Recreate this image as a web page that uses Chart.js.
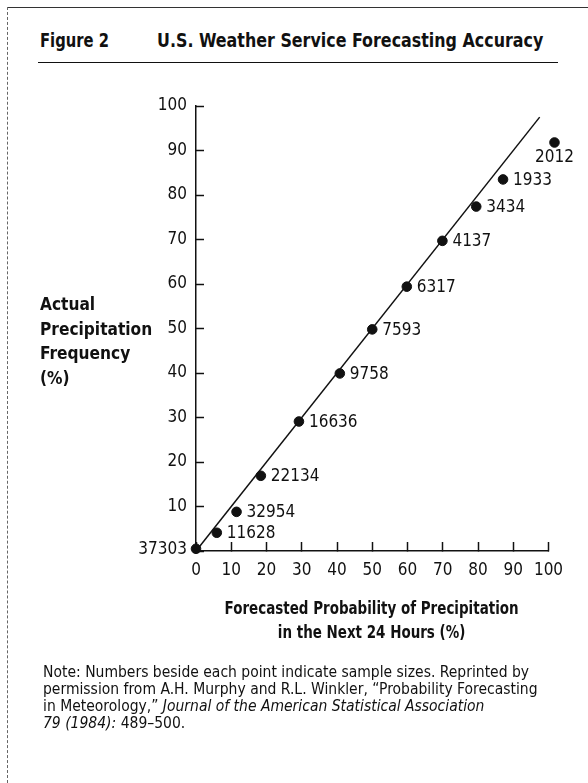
<!DOCTYPE html>
<html>
<head>
<meta charset="utf-8">
<script src="https://cdn.jsdelivr.net/npm/chart.js@4.4.1/dist/chart.umd.min.js"></script>
<style>
  html, body { margin: 0; padding: 0; background: #fff; }
  body { width: 588px; height: 783px; position: relative; overflow: hidden;
         font-family: 'DejaVu Sans Condensed', 'Liberation Sans Narrow', sans-serif; color: #111; }
  .frame-top { position: absolute; left: 7px; top: 7px; width: 581px; border-top: 1.5px solid #333; }
  .frame-left { position: absolute; left: 7px; top: 7px; height: 776px; border-left: 1.5px dashed #666; }
  .narrow { transform-origin: 0 0; white-space: nowrap; }
  .fig { position: absolute; left: 40px; top: 28px; font-weight: bold; font-size: 20px; transform: scaleX(0.82); }
  .title { position: absolute; left: 157px; top: 28px; font-weight: bold; font-size: 20px; transform: scaleX(0.883); }
  .rule { position: absolute; left: 38px; top: 62px; width: 520px; border-top: 1.5px solid #111; }
  .ytitle { position: absolute; left: 40px; top: 292px; font-weight: bold; font-size: 17.5px; line-height: 24.5px;
            transform: scaleX(0.98); }
  .xtitle { position: absolute; left: 222px; top: 596px; font-weight: bold; font-size: 17px; line-height: 24px;
            text-align: center; width: 340px; transform: scaleX(0.88); }
  .note { position: absolute; left: 43px; top: 664px; font-size: 15.5px; line-height: 17px; }
  #chartBox { position: absolute; left: 0; top: 0; width: 588px; height: 783px; }
</style>
</head>
<body>
<div class="frame-top"></div>
<div class="frame-left"></div>
<div class="fig narrow">Figure 2</div>
<div class="title narrow">U.S. Weather Service Forecasting Accuracy</div>
<div class="rule"></div>

<div id="chartBox"><canvas id="calibChart" width="588" height="783"></canvas></div>

<div class="ytitle narrow">Actual<br>Precipitation<br>Frequency<br>(%)</div>
<div class="xtitle narrow">Forecasted Probability of Precipitation<br>in the Next 24 Hours (%)</div>
<div class="note">Note: Numbers beside each point indicate sample sizes. Reprinted by<br>permission from A.H. Murphy and R.L. Winkler, “Probability Forecasting<br>in Meteorology,” <i>Journal of the American Statistical Association</i><br><i>79 (1984):</i> 489–500.</div>

<script>
const forecastPct = [0, 5.9, 11.5, 18.4, 29.2, 40.8, 50, 59.8, 69.9, 79.5, 87.1, 101.7];
const actualPct   = [0.5, 4.1, 8.8, 16.9, 29.1, 39.9, 49.8, 59.4, 69.7, 77.4, 83.5, 91.8];
const sampleSizes = [37303, 11628, 32954, 22134, 16636, 9758, 7593, 6317, 4137, 3434, 1933, 2012];

// perfect-forecast diagonal
const diagonalX = [0, 97.5];
const diagonalY = [0, 97.5];

const xTicks = [0, 10, 20, 30, 40, 50, 60, 70, 80, 90, 100];
const yTicks = [0, 10, 20, 30, 40, 50, 60, 70, 80, 90, 100];

const FONT = "'DejaVu Sans Condensed', 'Liberation Sans Narrow', sans-serif";
const INK = '#111';

// sample size written next to each point
const sampleLabels = {
    id: 'sampleLabels',
    afterDatasetsDraw(chart) {
        const meta = chart.getDatasetMeta(0);
        const ctx = chart.ctx;
        const last = meta.data.length - 1;
        ctx.save();
        ctx.font = '17px ' + FONT;
        ctx.fillStyle = INK;
        meta.data.forEach((pt, i) => {
            const txt = String(sampleSizes[i]);
            if (i === 0) {
                ctx.textAlign = 'right';
                ctx.textBaseline = 'middle';
                ctx.fillText(txt, pt.x - 9, pt.y + 1);
            } else if (i === last) {
                ctx.textAlign = 'center';
                ctx.textBaseline = 'top';
                ctx.fillText(txt, pt.x, pt.y + 7);
            } else {
                ctx.textAlign = 'left';
                ctx.textBaseline = 'middle';
                ctx.fillText(txt, pt.x + 10, pt.y + 1);
            }
        });
        ctx.restore();
    }
};

const canvas = document.getElementById('calibChart');
if (canvas) {
    const ctx = canvas.getContext('2d');

    new Chart(ctx, {
        type: 'scatter',
        data: {
            datasets: [{
                label: 'Forecasts',
                data: forecastPct.map((x, i) => ({ x: x, y: actualPct[i] })),
                backgroundColor: INK,
                borderColor: INK,
                pointRadius: 4.8,
                // bigger hover radius keeps the 100% point (just past the axis end) from being culled
                pointHoverRadius: 12,
                clip: false,
                order: 0
            }, {
                label: 'Perfect',
                data: diagonalX.map((x, i) => ({ x: x, y: diagonalY[i] })),
                showLine: true,
                borderColor: INK,
                borderWidth: 1.5,
                pointRadius: 0,
                clip: false,
                order: 1
            }]
        },
        options: {
            responsive: false,
            animation: false,
            events: [],
            layout: { padding: { left: 136, right: 39.5, top: 106, bottom: 192 } },
            plugins: {
                legend: { display: false },
                tooltip: { enabled: false }
            },
            scales: {
                x: {
                    type: 'linear',
                    min: 0,
                    max: 100,
                    afterBuildTicks: s => { s.ticks = xTicks.map(v => ({ value: v })); },
                    afterFit: s => { s.height = 40; },
                    ticks: { color: INK, font: { family: FONT, size: 17 }, padding: 18, maxRotation: 0, autoSkip: false },
                    grid: { drawOnChartArea: false, tickLength: -9, tickColor: INK, tickWidth: 1.5 },
                    border: { color: INK, width: 1.5 }
                },
                y: {
                    min: 0,
                    max: 100,
                    afterBuildTicks: s => { s.ticks = yTicks.map(v => ({ value: v })); },
                    afterFit: s => { s.width = 60; },
                    ticks: {
                        color: INK,
                        font: { family: FONT, size: 17 },
                        padding: 17,
                        callback: v => (v === 0 ? '' : v)
                    },
                    grid: { drawOnChartArea: false, tickLength: -8, tickColor: INK, tickWidth: 1.5 },
                    border: { color: INK, width: 1.5 }
                }
            }
        },
        plugins: [sampleLabels]
    });
} else {
    console.error('Canvas element not found');
}
</script>
</body>
</html>
